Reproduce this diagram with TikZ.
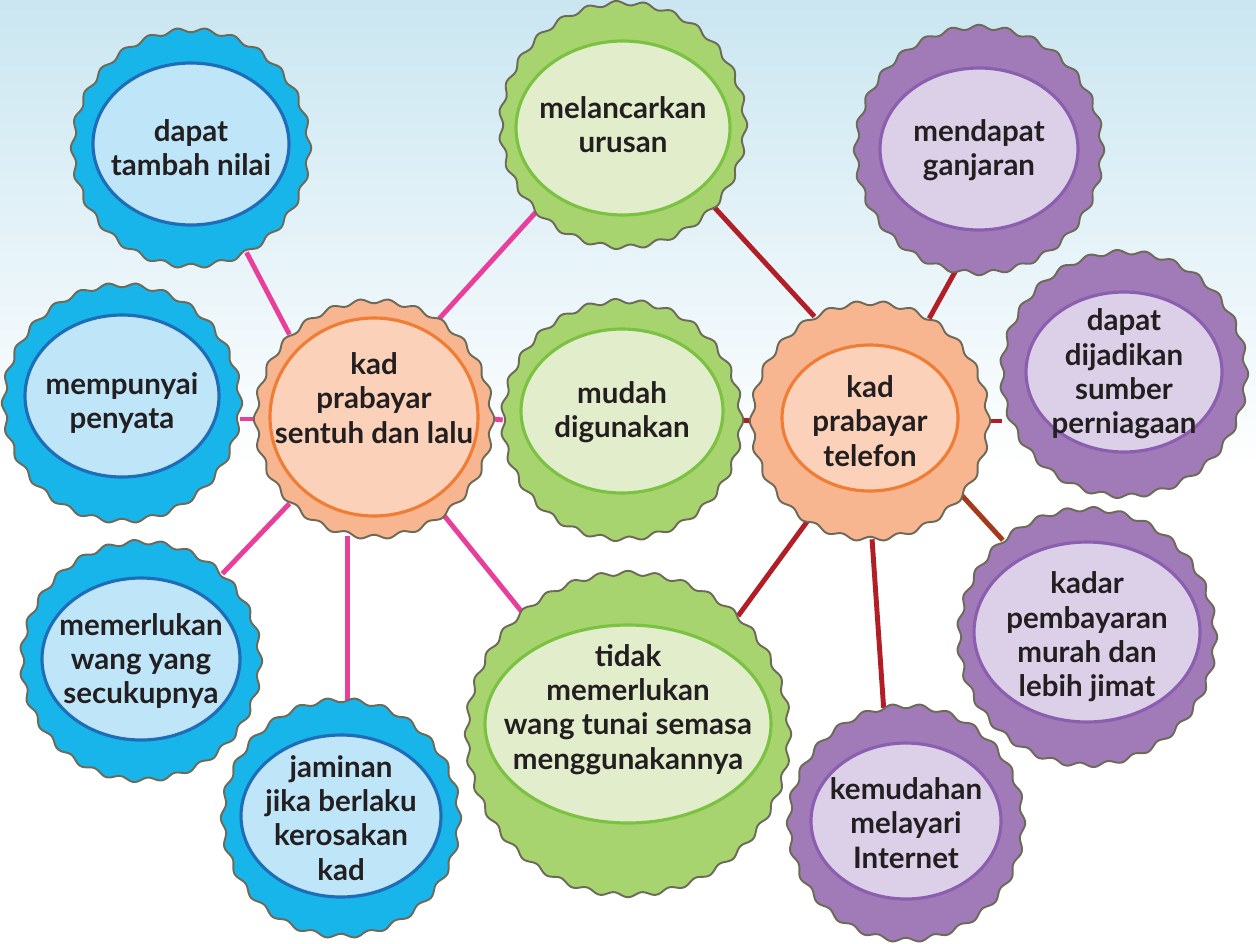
\documentclass[tikz,border=0pt]{standalone}
\usepackage{fontspec}
\setmainfont{Lato}
\usetikzlibrary{backgrounds}
\definecolor{SkyTop}{HTML}{CAE6F1}
\definecolor{RimGrey}{HTML}{6D6A58}
\definecolor{TextInk}{HTML}{231F20}
\definecolor{LinkPink}{HTML}{E8409A}
\definecolor{LinkRed}{HTML}{B11E25}
\definecolor{LinkBrown}{HTML}{A53A1B}
\definecolor{BlueOut}{HTML}{17B5EA}
\definecolor{BlueIn}{HTML}{BEE5F8}
\definecolor{BlueEdge}{HTML}{1F6DB8}
\definecolor{OrangeOut}{HTML}{F8B690}
\definecolor{OrangeIn}{HTML}{FBD2B9}
\definecolor{OrangeEdge}{HTML}{F07D35}
\definecolor{GreenOut}{HTML}{A8D46F}
\definecolor{GreenIn}{HTML}{E1EDCB}
\definecolor{GreenEdge}{HTML}{7CC242}
\definecolor{PurpleOut}{HTML}{A07BB8}
\definecolor{PurpleIn}{HTML}{DCD0E8}
\definecolor{PurpleEdge}{HTML}{8C5EAF}
\tikzset{
  rim/.style={draw=RimGrey, line width=1.1pt, line join=round},
  lens/.style={line width=1.8pt},
  bubble/.style={circle, inner sep=0pt, align=center, text=TextInk,
                 font=\fontsize{16.8}{19.5}\selectfont\bfseries},
  pinkline/.style={line width=2.8pt, draw=LinkPink},
  redline/.style={line width=2.8pt, draw=LinkRed},
}
% [node options]{name}{centre}{radius}{x radius}{y radius}{lens shift}{colour}{text}
\newcommand{\bubble}[9][]{%
  \pgfmathtruncatemacro\nwave{round(6.2832*#4/28)}%
  \pgfmathsetmacro\bsize{0.04*#4}%
  \filldraw[rim, fill=#8Out, shift={(#3)}]
    plot[domain=0:360, samples=721] (\x:{#4+2.2*cos(\nwave*\x)}) -- cycle;
  \filldraw[lens, fill=#8In, draw=#8Edge] (#3) ++(0,#7) ellipse [x radius=#5, y radius=#6];
  \node[bubble, minimum size=\bsize cm, #1] (#2) at (#3) {#9};
}

\begin{document}
\begin{tikzpicture}[x=0.02cm, y=-0.02cm]
  \useasboundingbox (0,0) rectangle (1256,943);
  % left side: contactless card
  \bubble{n1}{191,148}{118}{98}{81}{-4}{Blue}{dapat\\tambah nilai}
  \bubble{n2}{122,403}{118}{97}{81}{-7}{Blue}{mempunyai\\penyata}
  \bubble{n3}{141,661}{119}{99}{81}{-2}{Blue}{memerlukan\\wang yang\\secukupnya}
  \bubble{n4}{341,818}{118}{100}{81}{-2}{Blue}{jaminan\\jika berlaku\\kerosakan\\kad}
  \bubble[text depth=24pt]{O1}{374,419}{118}{104}{99}{-2}{Orange}{kad\\prabayar\\sentuh dan lalu}
  % shared
  \bubble{g1}{623,125}{122}{107}{87}{3}{Green}{melancarkan\\urusan}
  \bubble[text depth=12pt]{g2}{622,420}{119}{101}{82}{-9}{Green}{mudah\\digunakan}
  \bubble[text depth=31pt]{g3}{628,734}{161}{143}{99}{-10}{Green}{tidak\\memerlukan\\wang tunai semasa\\menggunakannya}
  % right side: phone card
  \bubble{O2}{870,421}{118}{88}{73}{-3}{Orange}{kad\\prabayar\\telefon}
  \bubble{p1}{979,150}{123}{99}{81}{-1}{Purple}{mendapat\\ganjaran}
  \bubble{p2}{1124,374}{122}{98}{80}{-2}{Purple}{dapat\\dijadikan\\sumber\\perniagaan}
  \bubble{p3}{1087,637}{128}{113}{90}{-5}{Purple}{kadar\\pembayaran\\murah dan\\lebih jimat}
  \bubble{p4}{906,823}{117}{95}{78}{-2}{Purple}{kemudahan\\melayari\\Internet}
  \begin{scope}[on background layer]
    \fill[white] (0,0) rectangle (1256,943);
    \shade[top color=SkyTop, bottom color=white] (0,0) rectangle (1256,470);
    \draw[pinkline] (O1.135) -- (n1.298);
    \draw[pinkline] (O1.west) -- (n2.east |- O1.west);
    \draw[pinkline] (O1.225) -- (n3.47);
    \draw[pinkline] (O1.257) -- (O1.257 |- n4.north);
    \draw[pinkline] (O1.57) -- (g1.225);
    \draw[pinkline] (O1.east) -- (g2.west);
    \draw[pinkline] (O1.306) -- (g3.131);
    \draw[redline] (O2.118) -- (g1.318);
    \draw[redline] (O2.west) -- (g2.east);
    \draw[redline] (O2.238) -- (g3.47);
    \draw[redline] (O2.60) -- (p1.259);
    \draw[redline] (O2.east) -- (p2.west |- O2.east);
    \draw[redline, draw=LinkBrown] (O2.321) -- (p3.131);
    \draw[redline] (O2.271) -- (p4.101);
  \end{scope}
\end{tikzpicture}
\end{document}
